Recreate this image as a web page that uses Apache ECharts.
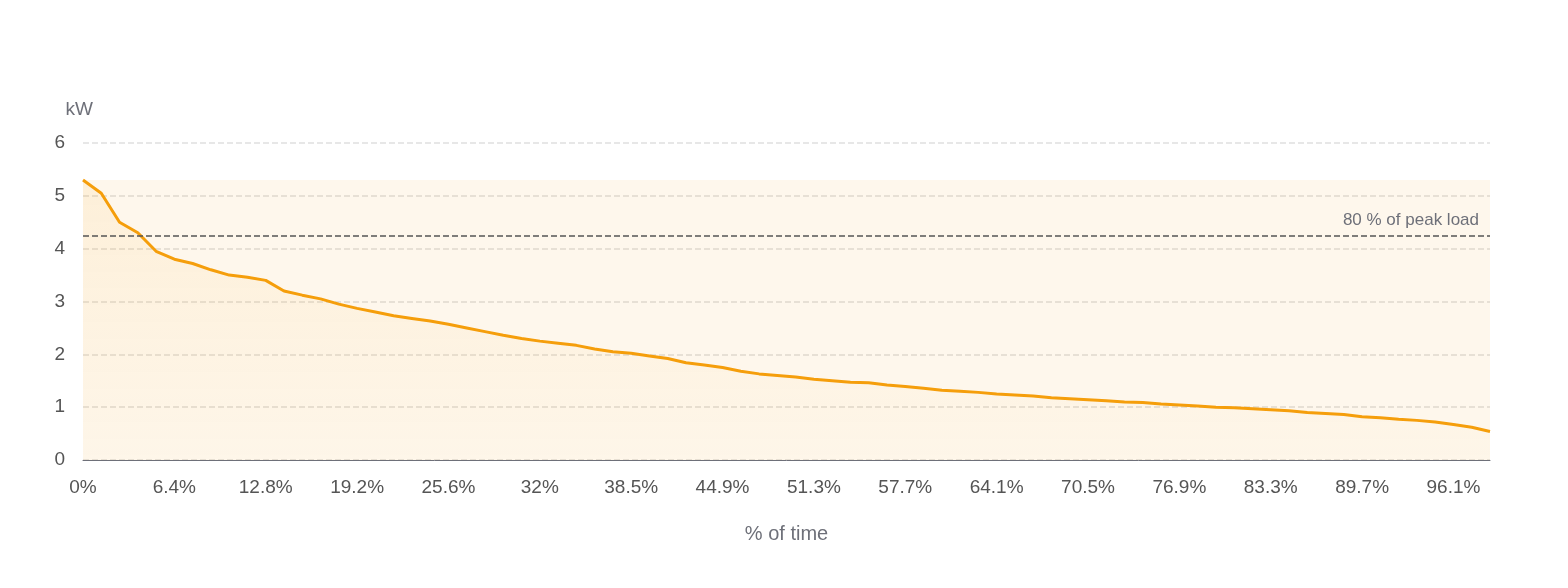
<!DOCTYPE html>
<html><head><meta charset="utf-8">
<script src="https://cdn.jsdelivr.net/npm/echarts@6/dist/echarts.min.js"></script>
<style>html,body{margin:0;padding:0;background:#fff}#c{width:1568px;height:588px}</style>
</head><body><div id="c"></div>
<script>
const loadKW = [5.3,5.05,4.5,4.3,3.95,3.8,3.72,3.6,3.5,3.46,3.4,3.2,3.12,3.05,2.95,2.87,2.8,2.73,2.68,2.63,
2.57,2.5,2.43,2.36,2.3,2.25,2.21,2.17,2.1,2.05,2.02,1.97,1.92,1.84,1.8,1.75,1.68,1.63,1.6,1.57,
1.53,1.5,1.47,1.46,1.42,1.39,1.36,1.32,1.3,1.28,1.25,1.23,1.21,1.18,1.16,1.14,1.12,1.1,1.09,1.06,
1.04,1.02,1.0,0.99,0.97,0.95,0.93,0.9,0.88,0.86,0.82,0.8,0.77,0.75,0.72,0.67,0.62,0.54];
const tickLabels = ['0%','6.4%','12.8%','19.2%','25.6%','32%','38.5%','44.9%','51.3%','57.7%','64.1%','70.5%','76.9%','83.3%','89.7%','96.1%'];
const timeLabels = loadKW.map((v,i)=> i%5===0 ? tickLabels[i/5] : '');
const peak = Math.max(...loadKW);
const threshold = Math.round(peak*0.8*100)/100;
const chart = echarts.init(document.getElementById('c'));
chart.setOption({
  animation:false,
  textStyle:{fontFamily:'Helvetica, Arial, "Liberation Sans", sans-serif'},
  grid:{left:83,right:78,top:143,bottom:128},
  xAxis:{type:'category',data:timeLabels,boundaryGap:false,name:'% of time',nameLocation:'middle',nameGap:64,
    nameTextStyle:{color:'#6e7079',fontSize:20},
    axisLine:{lineStyle:{color:'#6e7079'}},axisTick:{show:false},
    axisLabel:{interval:4,color:'#555',fontSize:19,margin:18}},
  yAxis:{type:'value',min:0,max:6,interval:1,name:'kW',nameGap:24,
    nameTextStyle:{color:'#6e7079',fontSize:19,align:'right',padding:[0,-10,0,0]},
    axisLabel:{color:'#555',fontSize:19,margin:18},
    splitLine:{lineStyle:{type:'dashed',color:'#e0e0e0',width:1.5}}},
  series:[{type:'line',data:loadKW,symbol:'none',
    lineStyle:{color:'#f59e0b',width:3},itemStyle:{color:'#f59e0b'},
    areaStyle:{color:new echarts.graphic.LinearGradient(0,0,0,1,[{offset:0,color:'rgba(245,158,11,0.12)'},{offset:1,color:'rgba(245,158,11,0.02)'}])},
    markArea:{silent:true,itemStyle:{color:'rgba(245,158,11,0.08)'},data:[[{yAxis:0},{yAxis:peak}]]},
    markLine:{silent:true,symbol:'none',lineStyle:{color:'#555',type:'dashed',width:1.5},
      label:{position:'insideEndTop',formatter:'80 % of peak load',color:'#6e7079',fontSize:17,padding:[0,6,2,0]},
      data:[{yAxis:threshold}]}
  }]
});
</script></body></html>
